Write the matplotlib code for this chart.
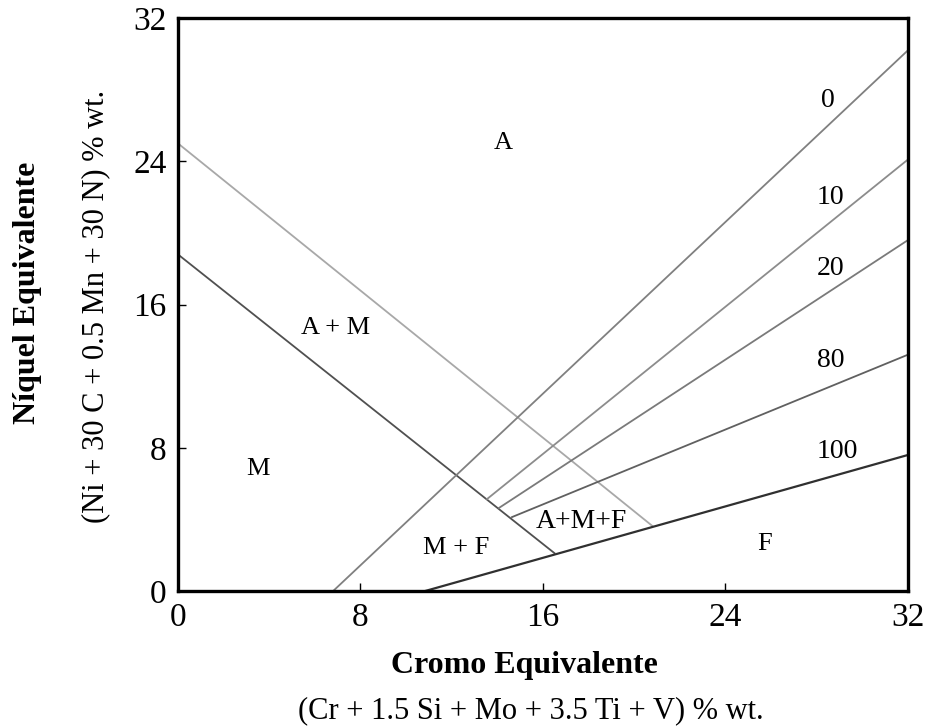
import matplotlib.pyplot as plt

plt.rcParams['font.family'] = ['Liberation Serif', 'DejaVu Serif']

# boundary lines of the diagram (Cr eq, Ni eq endpoints)
am_x = [0, 20.8]
am_y = [25.0, 3.63]
m_x = [0, 16.5]
m_y = [18.8, 2.12]

# constant ferrite lines: label, start, end
ferrite_labels = ['0', '10', '20', '80', '100']
ferrite_x0 = [6.8, 13.55, 14.07, 14.64, 10.83]
ferrite_y0 = [0.0, 5.14, 4.64, 4.13, 0.0]
ferrite_x1 = [32, 32, 32, 32, 32]
ferrite_y1 = [30.2, 24.1, 19.6, 13.2, 7.6]
ferrite_lx = [28.5, 28.6, 28.6, 28.6, 28.9]
ferrite_ly = [27.4, 22.0, 18.0, 12.9, 7.8]

# phase regions
region_names = ['A', 'A + M', 'M', 'M + F', 'A+M+F', 'F']
region_x = [14.25, 6.9, 3.5, 12.2, 17.7, 25.7]
region_y = [25.0, 14.7, 6.8, 2.4, 3.9, 2.6]

ticks = [0, 8, 16, 24, 32]

fig = plt.figure(figsize=(9.25, 7.27), dpi=100)
ax = fig.add_axes([0.1924, 0.187, 0.7892, 0.7882])

ax.plot(am_x, am_y, color='#a8a8a8', lw=1.3)
ax.plot(m_x, m_y, color='#505050', lw=1.3)

line_colors = ['#808080', '#8c8c8c', '#7a7a7a', '#606060', '#303030']
line_widths = [1.3, 1.3, 1.3, 1.3, 1.6]
for i in range(len(ferrite_labels)):
    ax.plot([ferrite_x0[i], ferrite_x1[i]], [ferrite_y0[i], ferrite_y1[i]],
            color=line_colors[i], lw=line_widths[i])
    ax.text(ferrite_lx[i], ferrite_ly[i], ferrite_labels[i], fontsize=20,
            ha='center', va='center')

for name, x, y in zip(region_names, region_x, region_y):
    ax.text(x, y, name, fontsize=19 if '+M+' not in name else 20,
            ha='center', va='center')

ax.set_xlim(0, 32)
ax.set_ylim(0, 32)
ax.set_xticks(ticks)
ax.set_yticks(ticks)
ax.tick_params(direction='in', length=6, width=1, labelsize=24, pad=8)
for s in ax.spines.values():
    s.set_linewidth(2.4)

fig.text(0.567, 0.085, 'Cromo Equivalente', fontsize=23, fontweight='bold',
         ha='center', va='center')
fig.text(0.574, 0.023, '(Cr + 1.5 Si + Mo + 3.5 Ti + V) % wt.', fontsize=22,
         ha='center', va='center')
fig.text(0.030, 0.597, 'Níquel Equivalente', fontsize=23, fontweight='bold',
         ha='center', va='center', rotation=90)
fig.text(0.103, 0.579, '(Ni + 30 C + 0.5 Mn + 30 N) % wt.', fontsize=22,
         ha='center', va='center', rotation=90)

fig.savefig('out.png', dpi=100)
